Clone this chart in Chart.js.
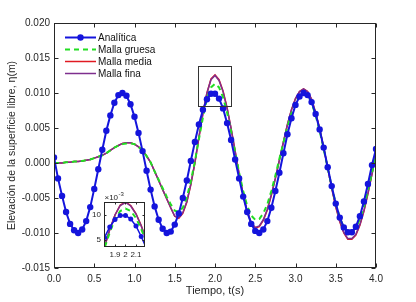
<!DOCTYPE html>
<html>
<head>
<meta charset="utf-8">
<script src="https://cdn.jsdelivr.net/npm/chart.js@4/dist/chart.umd.min.js"></script>
<style>
  html, body { margin: 0; padding: 0; background: #fff; }
  #wrap { position: relative; width: 416px; height: 302px; }
  #main { position: absolute; left: 0; top: 0; }
  #inset { position: absolute; left: 88px; top: 188px; }
</style>
</head>
<body>
<div id="wrap">
  <canvas id="main" width="416" height="302"></canvas>
  <canvas id="inset" width="62" height="72"></canvas>
</div>
<script>
// tiempo (s)
const tiempo = [
  0.00, 0.05, 0.10, 0.15, 0.20, 0.25, 0.30, 0.35, 0.40, 0.45,
  0.50, 0.55, 0.60, 0.65, 0.70, 0.75, 0.80, 0.85, 0.90, 0.95,
  1.00, 1.05, 1.10, 1.15, 1.20, 1.25, 1.30, 1.35, 1.40, 1.45,
  1.50, 1.55, 1.60, 1.65, 1.70, 1.75, 1.80, 1.85, 1.90, 1.95,
  2.00, 2.05, 2.10, 2.15, 2.20, 2.25, 2.30, 2.35, 2.40, 2.45,
  2.50, 2.55, 2.60, 2.65, 2.70, 2.75, 2.80, 2.85, 2.90, 2.95,
  3.00, 3.05, 3.10, 3.15, 3.20, 3.25, 3.30, 3.35, 3.40, 3.45,
  3.50, 3.55, 3.60, 3.65, 3.70, 3.75, 3.80, 3.85, 3.90, 3.95,
  4.00
];

// elevacion (m)
const analitica = [
  0.0008, -0.0022, -0.0047, -0.0070, -0.0087, -0.0096, -0.0100, -0.0095, -0.0083, -0.0063,
  -0.0037, -0.0009, 0.0019, 0.0046, 0.0068, 0.0086, 0.0097, 0.0100, 0.0096, 0.0084,
  0.0066, 0.0043, 0.0017, -0.0011, -0.0038, -0.0062, -0.0081, -0.0094, -0.0100, -0.0098,
  -0.0088, -0.0072, -0.0050, -0.0025, 0.0003, 0.0030, 0.0055, 0.0076, 0.0091, 0.0099,
  0.0099, 0.0092, 0.0078, 0.0057, 0.0033, 0.0005, -0.0022, -0.0048, -0.0070, -0.0087,
  -0.0097, -0.0100, -0.0095, -0.0083, -0.0064, -0.0040, -0.0014, 0.0014, 0.0041, 0.0064,
  0.0083, 0.0095, 0.0100, 0.0097, 0.0087, 0.0070, 0.0048, 0.0022, -0.0006, -0.0033,
  -0.0058, -0.0078, -0.0092, -0.0099, -0.0099, -0.0091, -0.0076, -0.0055, -0.0030, -0.0003,
  0.0020
];

const mallaGruesa = [
  0.0000, 0.0000, 0.0000, 0.0001, 0.0001, 0.0002, 0.0002, 0.0003, 0.0004, 0.0005,
  0.0007, 0.0009, 0.0011, 0.0014, 0.0018, 0.0022, 0.0025, 0.0027, 0.0028, 0.0028,
  0.0027, 0.0023, 0.0018, 0.0010, 0.0001, -0.0012, -0.0024, -0.0036, -0.0048, -0.0059,
  -0.0068, -0.0070, -0.0064, -0.0049, -0.0026, 0.0002, 0.0034, 0.0065, 0.0092, 0.0108,
  0.0113, 0.0108, 0.0094, 0.0072, 0.0045, 0.0016, -0.0014, -0.0040, -0.0061, -0.0075,
  -0.0081, -0.0080, -0.0072, -0.0059, -0.0040, -0.0018, 0.0006, 0.0029, 0.0052, 0.0071,
  0.0086, 0.0096, 0.0100, 0.0097, 0.0086, 0.0068, 0.0046, 0.0020, -0.0007, -0.0034,
  -0.0058, -0.0078, -0.0092, -0.0098, -0.0098, -0.0093, -0.0080, -0.0062, -0.0039, -0.0014,
  0.0011
];

const mallaMedia = [
  0.0000, 0.0000, 0.0000, 0.0001, 0.0001, 0.0002, 0.0002, 0.0003, 0.0004, 0.0005,
  0.0007, 0.0009, 0.0011, 0.0014, 0.0018, 0.0022, 0.0025, 0.0028, 0.0029, 0.0029,
  0.0027, 0.0023, 0.0018, 0.0010, 0.0001, -0.0012, -0.0025, -0.0038, -0.0051, -0.0064,
  -0.0076, -0.0079, -0.0072, -0.0056, -0.0031, 0.0000, 0.0036, 0.0071, 0.0100, 0.0120,
  0.0126, 0.0119, 0.0103, 0.0079, 0.0049, 0.0017, -0.0016, -0.0045, -0.0069, -0.0086,
  -0.0093, -0.0091, -0.0082, -0.0067, -0.0046, -0.0022, 0.0004, 0.0030, 0.0055, 0.0076,
  0.0092, 0.0102, 0.0106, 0.0102, 0.0091, 0.0072, 0.0049, 0.0022, -0.0007, -0.0036,
  -0.0063, -0.0084, -0.0100, -0.0109, -0.0109, -0.0103, -0.0089, -0.0069, -0.0044, -0.0016,
  0.0012
];

const mallaFina = [
  0.0000, 0.0000, 0.0000, 0.0001, 0.0001, 0.0002, 0.0002, 0.0003, 0.0004, 0.0005,
  0.0007, 0.0009, 0.0011, 0.0014, 0.0018, 0.0022, 0.0025, 0.0028, 0.0029, 0.0029,
  0.0027, 0.0023, 0.0018, 0.0010, 0.0001, -0.0012, -0.0025, -0.0038, -0.0051, -0.0064,
  -0.0076, -0.0078, -0.0071, -0.0055, -0.0030, 0.0001, 0.0037, 0.0071, 0.0100, 0.0119,
  0.0125, 0.0118, 0.0102, 0.0078, 0.0049, 0.0017, -0.0016, -0.0045, -0.0069, -0.0085,
  -0.0092, -0.0090, -0.0081, -0.0066, -0.0045, -0.0022, 0.0004, 0.0030, 0.0055, 0.0076,
  0.0092, 0.0102, 0.0106, 0.0102, 0.0091, 0.0072, 0.0049, 0.0022, -0.0007, -0.0036,
  -0.0062, -0.0083, -0.0099, -0.0108, -0.0108, -0.0102, -0.0088, -0.0068, -0.0043, -0.0016,
  0.0012
];

const nombres = ['Analítica', 'Malla gruesa', 'Malla media', 'Malla fina'];
const colores = ['#1414dc', '#22dd22', '#e01a22', '#7e2f8e'];

// ticks del recuadro ampliado
const insetTicksX = [1.9, 2.0, 2.1];
const insetTicksY = [0.005, 0.010];

const FONT = 'Arial, "Liberation Sans", sans-serif';
const AXIS = '#262626';

function puntos(vals) {
  return tiempo.map((t, i) => ({ x: t, y: vals[i] }));
}

function buildDatasets(small) {
  return [
    {
      label: nombres[0], data: puntos(analitica),
      borderColor: colores[0], backgroundColor: colores[0],
      borderWidth: small ? 1.5 : 2, pointRadius: small ? 2.5 : 3.2,
      pointBorderWidth: 0, order: 0
    },
    {
      label: nombres[1], data: puntos(mallaGruesa),
      borderColor: colores[1], borderWidth: 2, borderDash: [5, 4],
      pointRadius: 0, order: 1
    },
    {
      label: nombres[3], data: puntos(mallaFina),
      borderColor: colores[3], borderWidth: 1.5, pointRadius: 0, order: 2
    },
    {
      label: nombres[2], data: puntos(mallaMedia),
      borderColor: colores[2], borderWidth: 1.5, pointRadius: 0, order: 3
    }
  ];
}

// ejes estilo matlab: caja y ticks hacia dentro
const matlabAxes = {
  id: 'matlabAxes',
  beforeDatasetsDraw(chart, args, opts) {
    if (!opts.fill) return;
    const a = chart.chartArea;
    chart.ctx.save();
    chart.ctx.fillStyle = '#fff';
    chart.ctx.fillRect(a.left, a.top, a.width, a.height);
    chart.ctx.restore();
  },
  afterDraw(chart, args, opts) {
    const { ctx, chartArea: a, scales } = chart;
    const L = Math.round(a.left) + 0.5, R = Math.round(a.right) - 0.5;
    const T = Math.round(a.top) + 0.5, B = Math.round(a.bottom) - 0.5;
    ctx.save();
    ctx.strokeStyle = AXIS;
    ctx.lineWidth = 1;
    ctx.strokeRect(L, T, R - L, B - T);
    ctx.beginPath();
    scales.x.ticks.forEach(t => {
      const px = Math.round(scales.x.getPixelForValue(t.value)) + 0.5;
      ctx.moveTo(px, B); ctx.lineTo(px, B - opts.len);
      ctx.moveTo(px, T); ctx.lineTo(px, T + opts.len);
    });
    scales.y.ticks.forEach(t => {
      const py = Math.round(scales.y.getPixelForValue(t.value)) + 0.5;
      ctx.moveTo(L, py); ctx.lineTo(L + opts.len, py);
      ctx.moveTo(R, py); ctx.lineTo(R - opts.len, py);
    });
    ctx.stroke();

    if (opts.zoomBox) {
      const z = opts.zoomBox;
      const x0 = Math.round(scales.x.getPixelForValue(z.t0)) + 0.5;
      const x1 = Math.round(scales.x.getPixelForValue(z.t1)) + 0.5;
      const y0 = Math.round(scales.y.getPixelForValue(z.e1)) + 0.5;
      const y1 = Math.round(scales.y.getPixelForValue(z.e0)) + 0.5;
      ctx.strokeStyle = '#333';
      ctx.strokeRect(x0, y0, x1 - x0, y1 - y0);
    }

    if (opts.exponent) {
      ctx.fillStyle = AXIS;
      ctx.textBaseline = 'alphabetic';
      ctx.font = '8px ' + FONT;
      ctx.fillText('×10', L, T - 3);
      const w = ctx.measureText('×10').width;
      ctx.font = '6px ' + FONT;
      ctx.fillText('-3', L + w + 0.5, T - 7);
    }
    ctx.restore();
  }
};

// leyenda dentro del area
const matlabLegend = {
  id: 'matlabLegend',
  afterDraw(chart, args, opts) {
    if (!opts.show) return;
    const ctx = chart.ctx;
    ctx.save();
    ctx.font = '10px ' + FONT;
    ctx.textBaseline = 'middle';
    nombres.forEach((n, i) => {
      const y = opts.y0 + i * opts.dy;
      ctx.strokeStyle = colores[i];
      ctx.lineWidth = i === 0 || i === 1 ? 2 : 1.5;
      ctx.setLineDash(i === 1 ? [5, 4] : []);
      ctx.beginPath();
      ctx.moveTo(opts.x0, y);
      ctx.lineTo(opts.x1, y);
      ctx.stroke();
      ctx.setLineDash([]);
      if (i === 0) {
        ctx.fillStyle = colores[0];
        ctx.beginPath();
        ctx.arc((opts.x0 + opts.x1) / 2, y, 3.2, 0, Math.PI * 2);
        ctx.fill();
      }
      ctx.fillStyle = '#111';
      ctx.fillText(n, opts.x1 + 2, y + 0.5);
    });
    ctx.restore();
  }
};

Chart.register(matlabAxes, matlabLegend);

new Chart(document.getElementById('main'), {
  type: 'line',
  data: { datasets: buildDatasets(false) },
  options: {
    responsive: false,
    animation: false,
    devicePixelRatio: 1,
    layout: { padding: { top: 23, right: 40, left: 0, bottom: 0 } },
    plugins: {
      legend: { display: false },
      tooltip: { enabled: false },
      matlabAxes: { len: 4, zoomBox: { t0: 1.785, t1: 2.2, e0: 0.0082, e1: 0.0139 } },
      matlabLegend: { show: true, x0: 65, x1: 96, y0: 37.5, dy: 12 }
    },
    scales: {
      x: {
        type: 'linear', min: 0, max: 4,
        grid: { display: false, drawTicks: false },
        border: { display: false },
        ticks: { stepSize: 0.5, callback: v => v.toFixed(1), font: { size: 10, family: FONT }, color: AXIS, padding: 5, maxRotation: 0 },
        title: { display: true, text: 'Tiempo, t(s)', font: { size: 11, family: FONT }, color: AXIS, padding: { top: 0, bottom: 4 } },
        afterFit: s => { s.height = 34; }
      },
      y: {
        min: -0.015, max: 0.02,
        grid: { display: false, drawTicks: false },
        border: { display: false },
        ticks: { stepSize: 0.005, callback: v => v.toFixed(3), font: { size: 10, family: FONT }, color: AXIS, padding: 4 },
        title: { display: true, text: 'Elevación de la superficie libre, η(m)', font: { size: 10.5, family: FONT }, color: AXIS, padding: { top: 6, bottom: 0 } },
        afterFit: s => { s.width = 54; }
      }
    }
  }
});

new Chart(document.getElementById('inset'), {
  type: 'line',
  data: { datasets: buildDatasets(true) },
  options: {
    responsive: false,
    animation: false,
    devicePixelRatio: 1,
    layout: { padding: { top: 14, right: 5, left: 0, bottom: 0 } },
    plugins: {
      legend: { display: false },
      tooltip: { enabled: false },
      matlabAxes: { len: 2, fill: true, exponent: true },
      matlabLegend: { show: false }
    },
    scales: {
      x: {
        type: 'linear', min: 1.795, max: 2.186,
        grid: { display: false, drawTicks: false },
        border: { display: false },
        afterBuildTicks: s => { s.ticks = insetTicksX.map(v => ({ value: v })); },
        ticks: { callback: v => String(+v.toFixed(1)), font: { size: 8, family: FONT }, color: AXIS, padding: 3, maxRotation: 0, autoSkip: false },
        afterFit: s => { s.height = 13; }
      },
      y: {
        min: 0.0036, max: 0.0126,
        grid: { display: false, drawTicks: false },
        border: { display: false },
        afterBuildTicks: s => { s.ticks = insetTicksY.map(v => ({ value: v })); },
        ticks: { callback: v => String(Math.round(v * 1000)), font: { size: 8, family: FONT }, color: AXIS, padding: 3, autoSkip: false },
        afterFit: s => { s.width = 16; }
      }
    }
  }
});
</script>
</body>
</html>
